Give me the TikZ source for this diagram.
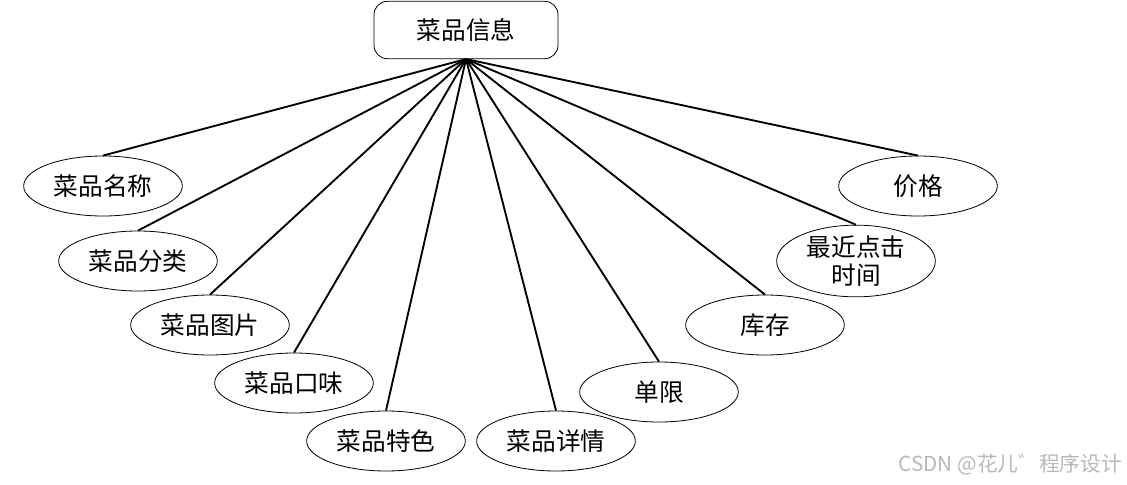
\documentclass[tikz,border=0pt]{standalone}
\usepackage{fontspec}
\setmainfont{Noto Sans CJK SC}
\newfontfamily\cjk{Noto Sans CJK SC}
\usepackage{tikz}
\usetikzlibrary{shapes.geometric}

\tikzset{
    attr/.style={
        ellipse,
        draw=black,
        line width=0.6pt,
        minimum width=119pt,
        minimum height=45pt,
        inner sep=0pt,
        align=center,
        font=\cjk\fontsize{18.5}{21}\selectfont
    },
    entity/.style={
        rectangle,
        rounded corners=10pt,
        draw=black,
        line width=0.6pt,
        minimum width=138pt,
        minimum height=43pt,
        font=\cjk\fontsize{18.5}{21}\selectfont
    },
    link/.style={
        black,
        line width=1.4pt
    }
}

\begin{document}
\begin{tikzpicture}[x=0.75pt, y=-0.75pt]

    \useasboundingbox (0,0) rectangle (1127,485);

    % Entitat
    \node[entity] (info) at (466,30) {菜品信息};

    % Atributs
    \node[attr] (name)   at (103,186)   {菜品名称};
    \node[attr] (cat)    at (138,261)   {菜品分类};
    \node[attr] (pic)    at (210,325)   {菜品图片};
    \node[attr] (taste)  at (294,383)   {菜品口味};
    \node[attr] (feat)   at (386,441)   {菜品特色};
    \node[attr] (detail) at (556,441)   {菜品详情};
    \node[attr] (limit)  at (659,392)   {单限};
    \node[attr] (stock)  at (765,325)   {库存};
    \node[attr] (recent) at (856,261)   {最近点击\\时间};
    \node[attr] (price)  at (918,186)   {价格};

    % Connexions
    \foreach \a in {name,cat,pic,taste,feat,detail,limit,stock,recent,price}
        \draw[link] (info.south) -- (\a.north);

    % Marca d'aigua
    \node[
        anchor=east,
        text=black!28,
        inner sep=0pt,
        font=\cjk\fontsize{15.5}{17}\selectfont
    ] (mark) at (1122,465) {CSDN @花儿゛程序设计};

\end{tikzpicture}
\end{document}
